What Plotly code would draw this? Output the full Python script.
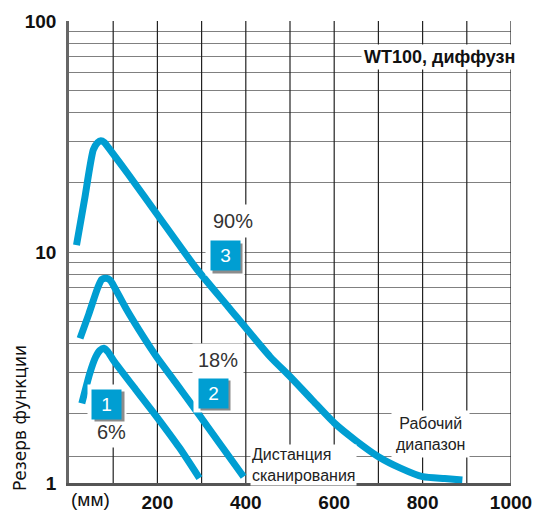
import math
import plotly.graph_objects as go

# ---------------- data ----------------
dist_90 = [17, 35, 55, 65, 72, 80, 93, 134, 200, 289, 360, 455, 500, 550, 600, 650, 700, 750, 800, 850, 890]
res_90 = [10.7, 16.8, 27.7, 29.8, 30.3, 29.8, 27.7, 21.7, 14.5, 8.44, 5.8, 3.52, 2.89, 2.29, 1.82, 1.52, 1.30, 1.16, 1.065, 1.045, 1.03]

dist_18 = [25, 45, 65, 74, 84, 93, 100, 130, 168, 198, 240, 281, 340, 395]
res_18 = [4.23, 5.4, 7.0, 7.6, 7.7, 7.55, 7.2, 5.65, 4.3, 3.52, 2.74, 2.14, 1.49, 1.065]

dist_6 = [29, 47, 60, 70, 79, 88, 100, 150, 198, 250, 295]
res_6 = [2.21, 2.98, 3.5, 3.75, 3.83, 3.7, 3.41, 2.55, 1.94, 1.42, 1.05]

x_grid = [0, 100, 200, 300, 400, 500, 600, 700, 800, 900, 1000]
x_labels = ["", "", "200", "", "400", "", "600", "", "800", "", "1000"]
y_grid = [1, 1.3, 2, 3, 4, 5, 6, 7, 8, 9, 10, 20, 30, 40, 50, 60, 70, 80, 90, 100]
y_labels = ["1", "", "", "", "", "", "", "", "", "", "10", "", "", "", "", "", "", "", "", "100"]
y_span = [1, 100]

BLUE = "#009ED2"
FONT = "Liberation Sans"

fig = go.Figure()

# vertical grid lines (drawn through the axis scales)
gx, gy = [], []
for v in x_grid[1:]:
    gx += [v, v, None]
    gy += [y_span[0], y_span[1], None]
fig.add_trace(go.Scatter(x=gx, y=gy, mode="lines", line=dict(color="#222222", width=1.2),
                         hoverinfo="skip", showlegend=False))

for xs, ys in [(dist_90, res_90), (dist_18, res_18), (dist_6, res_6)]:
    fig.add_trace(go.Scatter(x=xs, y=ys, mode="lines",
                             line=dict(color=BLUE, width=7, shape="spline", smoothing=0.6),
                             hoverinfo="skip", showlegend=False))

ann = []
def text(x, y, t, size=16, color="#333333", bold=False, bg="white", pad=3, xanchor="center", align="center"):
    ann.append(dict(x=x, y=math.log10(y), xref="x", yref="y", text=t, showarrow=False,
                    font=dict(family=FONT, size=size, color=color, weight=700 if bold else 400),
                    bgcolor=bg, borderpad=pad, xanchor=xanchor, align=align))

def box(x, y, t):
    ly = math.log10(y)
    ann.append(dict(x=x, y=ly, xref="x", yref="y", text=" ", showarrow=False, width=36, height=36,
                    bgcolor="white", font=dict(size=10)))
    ann.append(dict(x=x, y=ly, xref="x", yref="y", text=" ", showarrow=False, width=27, height=27,
                    bgcolor="#8c8c8c", xshift=2.5, yshift=-2.5, font=dict(size=10)))
    ann.append(dict(x=x, y=ly, xref="x", yref="y", text=t, showarrow=False, width=27, height=27,
                    bgcolor=BLUE, font=dict(family=FONT, size=19, color="white")))

text(372, 10 ** 1.134, "90%", size=20, pad=5)
text(336, 10 ** 0.532, "18%", size=20, pad=5)
text(97, 10 ** 0.219, "6%", size=20, pad=4)
box(354, 10 ** 0.9835, "3")
box(326, 10 ** 0.388, "2")
box(85, 10 ** 0.340, "1")
text(838, 10 ** 1.844, "WT100, диффузн", size=18, color="#111111", bold=True, pad=2)
text(817, 10 ** 0.212, "Рабочий<br>диапазон", size=16, color="#222222", pad=4)
text(410, 10 ** 0.078, "Дистанция<br>сканирования", size=16, color="#222222", pad=1,
     xanchor="left", align="left")

ann.append(dict(x=49, y=-0.036, xref="x", yref="paper", text="(мм)", showarrow=False,
                font=dict(family=FONT, size=19, color="#111111"), yanchor="middle"))
ann.append(dict(x=-0.111, y=0.1407, xref="paper", yref="paper", text="Резерв функции",
                showarrow=False, textangle=-90, xanchor="center", yanchor="middle",
                font=dict(family="DejaVu Sans", size=17, color="#111111")))

fig.update_layout(
    template="none",
    width=536, height=512,
    margin=dict(l=69, r=25, t=21, b=29),
    paper_bgcolor="white", plot_bgcolor="white",
    annotations=ann,
    xaxis=dict(range=[0, 1000], tickmode="array", tickvals=x_grid, ticktext=x_labels,
               showgrid=False, automargin=False,
               showline=True, linecolor="#555555", linewidth=2.5, zeroline=False,
               ticks="", ticklabelstandoff=0,
               tickfont=dict(family=FONT, size=19, color="#111111", weight=700)),
    yaxis=dict(type="log", range=[0, 2], tickmode="array", tickvals=y_grid, ticktext=y_labels,
               showgrid=True, gridcolor="#808080", gridwidth=1.3, automargin=False,
               showline=True, linecolor="#666666", linewidth=2.5, zeroline=False,
               ticks="outside", ticklen=6, tickcolor="rgba(0,0,0,0)",
               tickfont=dict(family=FONT, size=19, color="#111111", weight=700)),
)

fig.write_html("out.html", config={"displayModeBar": False},
               post_script="document.body.style.margin='0';document.body.style.padding='0';")
